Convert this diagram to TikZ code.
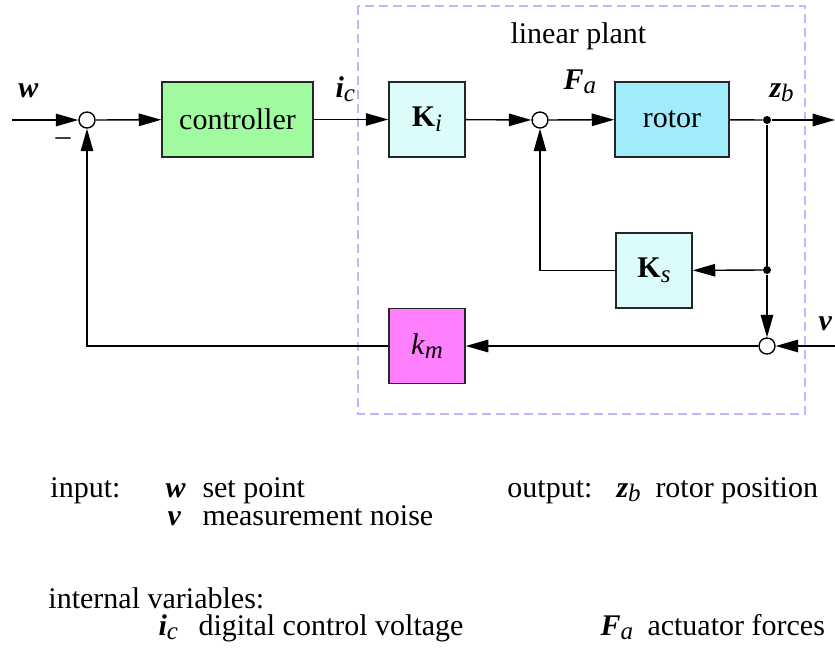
\documentclass[tikz,border=0pt,12pt]{standalone}
\usepackage{fontspec}
\setmainfont{Liberation Serif}
\usepackage{xcolor}
\usetikzlibrary{arrows.meta,positioning}

\definecolor{ctrlgreen}{RGB}{160,250,160}
\definecolor{gaincyan}{RGB}{220,252,252}
\definecolor{rotorblue}{RGB}{160,236,252}
\definecolor{sensmagenta}{RGB}{255,128,255}
\definecolor{plantblue}{RGB}{185,185,255}
\newcommand{\low}[1]{\raisebox{-0.35ex}{\fontsize{10}{12}\selectfont\textit{#1}}}
\newcommand{\sig}[2]{\textbf{\textit{#1}}\low{#2}}

\begin{document}
\begin{tikzpicture}[
  x=0.4pt, y=-0.4pt,
  every node/.style={font=\normalsize},
  block/.style={draw=black!85, line width=0.6pt, minimum height=30pt, inner sep=0pt},
  sumpt/.style={draw, circle, fill=white, line width=0.55pt, minimum size=6.4pt, inner sep=0pt},
  branch/.style={circle, fill=black, minimum size=3.2pt, inner sep=0pt},
  edge/.style={-{Triangle[length=9pt,width=5pt]}, line width=0.55pt},
  wire/.style={line width=0.55pt},
  lbl/.style={anchor=base west, inner sep=0pt}
]
\useasboundingbox (0,0) rectangle (835,661);
% plant frame
\draw[plantblue, line width=0.5pt, dash pattern=on 3.6pt off 2pt] (358,6) rectangle (805,414);
\node[lbl] (plantlbl) at (510,43) {linear plant};
% blocks
\node[block, fill=ctrlgreen, minimum width=60.4pt] (ctrl) at (237.5,119.5) {controller};
\node[block, fill=gaincyan, minimum width=30.4pt] (Ki) at (427,119.5) {\textbf{K}\low{i}};
\node[block, fill=rotorblue, minimum width=45.6pt] (rotor) at (672,119.5) {rotor};
\node[block, fill=gaincyan, minimum width=30.4pt] (Ks) at (654,270.5) {\textbf{K}\low{s}};
\node[block, fill=sensmagenta, minimum width=30.4pt] (km) at (427,346) {\textit{k}\low{m}};
% junctions
\node[sumpt] (sum1) at (87,120) {};
\node[sumpt] (sum2) at (540,120) {};
\node[sumpt] (sum3) at (767,346) {};
\node[branch] (dot1) at (767,120) {};
\node[branch] (dot2) at (767,270) {};
\coordinate (win) at (12,120);
\coordinate (zout) at (835,120);
\coordinate (vin) at (835,346);
% signals
\node[lbl] (wlbl) at (18,97) {\textbf{\textit{w}}};
\node (minus) at (63,142) {--};
\node[lbl] (iclbl) at (335,97) {\sig{i}{c}};
\node[lbl] (Falbl) at (563,89) {\sig{F}{a}};
\node[lbl] (zblbl) at (769,97) {\sig{z}{b}};
\node[lbl] (vlbl) at (818,330) {\textbf{\textit{v}}};
\draw[edge] (win) -- (sum1);
\draw[edge] (sum1) -- (ctrl);
\draw[edge] (ctrl) -- (Ki);
\draw[edge] (Ki) -- (sum2);
\draw[edge] (sum2) -- (rotor);
\draw[wire] (rotor) -- (dot1);
\draw[edge] (dot1) -- (zout);
\draw[wire] (dot1) -- (dot2);
\draw[edge] (dot2) -- (sum3);
\draw[edge] (dot2) -- (Ks);
\draw[edge] (Ks) -| (sum2);
\draw[edge] (vin) -- (sum3);
\draw[edge] (sum3) -- (km);
\draw[edge] (km) -| (sum1);
% legend
\node[lbl] (inlbl) at (50,497) {input:};
\node[lbl] (wsym) at (165,497) {\textbf{\textit{w}}};
\node[lbl] (wtxt) at (202,497) {set point};
\node[lbl] (vsym) at (167,525) {\textbf{\textit{v}}};
\node[lbl] (vtxt) at (202,525) {measurement noise};
\node[anchor=base east, inner sep=0pt] (outlbl) at (593,497) {output:};
\node[lbl] (zsym) at (616,497) {\sig{z}{b}};
\node[lbl] (ztxt) at (655,497) {rotor position};
\node[lbl] (intlbl) at (48,608) {internal variables:};
\node[lbl] (isym) at (158,635) {\sig{i}{c}};
\node[lbl] (itxt) at (198,635) {digital control voltage};
\node[lbl] (Fsym) at (600,635) {\sig{F}{a}};
\node[lbl] (Ftxt) at (647,635) {actuator forces};
\end{tikzpicture}
\end{document}
